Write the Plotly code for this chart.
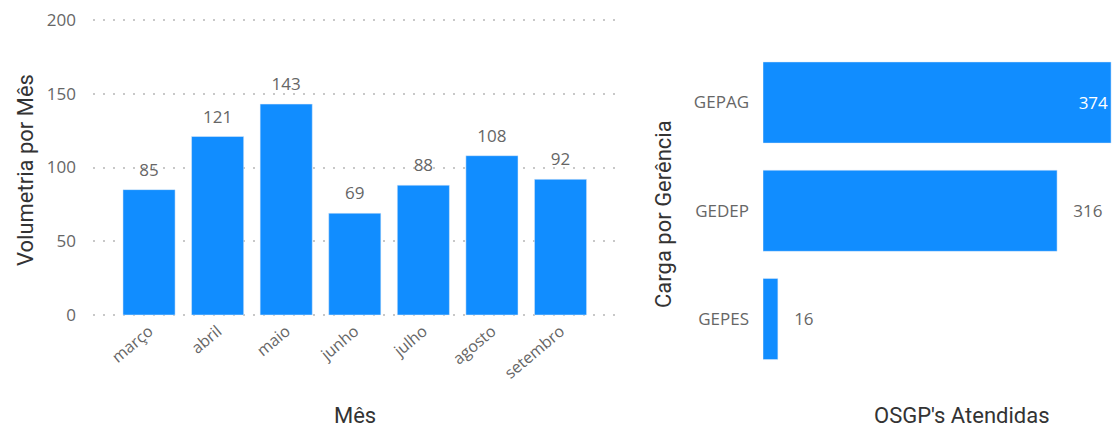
import plotly.graph_objects as go

# monthly volume
meses = ["março", "abril", "maio", "junho", "julho", "agosto", "setembro"]
volumetria = [85, 121, 143, 69, 88, 108, 92]

# load per management unit
gerencias = ["GEPAG", "GEDEP", "GEPES"]
osgp = [374, 316, 16]

azul = "#118DFF"
cinza = "#666666"
escuro = "#333333"
fonte = "Open Sans"
fonte_titulo = "Roboto"

W, H = 1112, 428


def fx(px):
    return px / W


def fy(px):
    return 1 - px / H


fig = go.Figure()

fig.add_trace(go.Bar(
    x=meses, y=volumetria, xaxis="x", yaxis="y",
    marker_color=azul, width=0.76,
))
# data labels above the columns (invisible marker pushes text up a bit)
fig.add_trace(go.Scatter(
    x=meses, y=volumetria, xaxis="x", yaxis="y",
    mode="markers+text", text=volumetria, textposition="top center",
    marker=dict(size=14, opacity=0), cliponaxis=False, hoverinfo="skip",
    textfont=dict(family=fonte, size=17, color=cinza),
))

nb = "\u00a0" * 3
fig.add_trace(go.Bar(
    x=osgp, y=gerencias, orientation="h", xaxis="x2", yaxis="y2",
    marker_color=azul, width=0.75,
    text=[str(v) if v == max(osgp) else nb + str(v) for v in osgp],
    textposition=["inside" if v == max(osgp) else "outside" for v in osgp],
    insidetextanchor="end",
    insidetextfont=dict(family=fonte, size=17, color="white"),
    outsidetextfont=dict(family=fonte, size=17, color=cinza),
    cliponaxis=False,
))

fig.update_layout(
    width=W, height=H,
    margin=dict(l=0, r=0, t=0, b=0),
    paper_bgcolor="white", plot_bgcolor="white",
    showlegend=False,
    font=dict(family=fonte, color=cinza, size=17),
    xaxis=dict(
        domain=[fx(93), fx(618)], anchor="y", automargin=False,
        range=[-0.817, 6.838], tickangle=-40,
        showgrid=False, showline=False, ticks="",
        tickfont=dict(family=fonte, size=16, color=cinza),
    ),
    yaxis=dict(
        domain=[fy(317.95), fy(17.05)], anchor="x", automargin=False,
        range=[-2, 202], tickvals=[0, 50, 100, 150, 200],
        showgrid=True, gridcolor="#C8C8C8", griddash="2px,8px", gridwidth=1.5,
        zeroline=False, showline=False, ticks="", ticklabelstandoff=16,
        ticklabeloverflow="allow",
        tickfont=dict(family=fonte, size=17, color=cinza),
    ),
    xaxis2=dict(
        domain=[fx(763), 1.0], anchor="y2", automargin=False,
        range=[0, 375], showticklabels=False,
        showgrid=False, zeroline=False, showline=False, ticks="",
    ),
    yaxis2=dict(
        domain=[fy(373.1), fy(48.4)], anchor="x2", automargin=False,
        categoryorder="array", categoryarray=gerencias, autorange="reversed",
        showgrid=False, zeroline=False, showline=False, ticks="",
        ticklabelstandoff=13,
        tickfont=dict(family=fonte, size=17, color=cinza),
    ),
)

# axis titles, placed in screen pixels
titulos = [
    ("Volumetria por Mês", 25, 170, -90),
    ("Mês", 355, 415, 0),
    ("Carga por Gerência", 663, 214, -90),
    ("OSGP's Atendidas", 962, 415, 0),
]
for texto, px_x, px_y, ang in titulos:
    fig.add_annotation(
        text=texto, x=fx(px_x), y=fy(px_y), xref="paper", yref="paper",
        xanchor="center", yanchor="middle", showarrow=False, textangle=ang,
        font=dict(family=fonte_titulo, size=22, color=escuro),
    )

# drop the default page margin so the figure fills the window exactly
fig.write_html("out.html", config={"displayModeBar": False},
               post_script="document.body.style.margin='0';")
